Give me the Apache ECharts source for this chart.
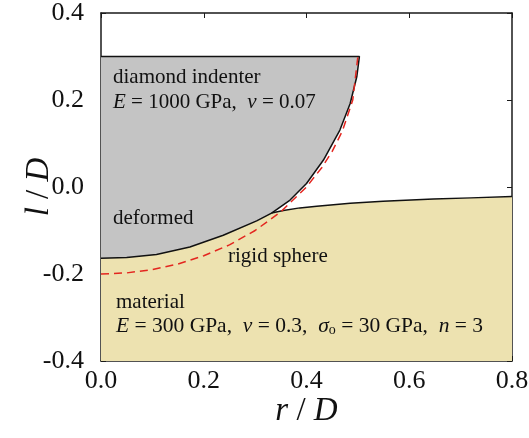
<!DOCTYPE html>
<html>
<head>
<meta charset="utf-8">
<script src="https://cdn.jsdelivr.net/npm/echarts@6/dist/echarts.min.js"></script>
<style>
  html, body { margin: 0; padding: 0; background: #fff; }
  #chart { width: 529px; height: 438px; }
</style>
</head>
<body>
<div id="chart"></div>
<script>
// tick labels
var xTicks = [0, 0.2, 0.4, 0.6, 0.8];
var yTicks = [-0.4, -0.2, 0.0, 0.2, 0.4];

// deformed indenter profile, from the axis up to its flat top (r, l)
var indenterProfile = [
  [0, -0.164], [0.05, -0.162], [0.108, -0.155], [0.173, -0.138], [0.238, -0.111],
  [0.303, -0.078], [0.332, -0.060], [0.368, -0.030], [0.400, 0.008], [0.433, 0.062],
  [0.465, 0.131], [0.485, 0.192], [0.498, 0.254], [0.503, 0.300]
];
var indenterTop = 0.3;
var contactIndex = 6; // profile point where the material leaves the indenter

// free material surface, from the contact edge outwards
var materialSurface = [
  [0.332, -0.060], [0.355, -0.054], [0.387, -0.048], [0.420, -0.044], [0.485, -0.0375],
  [0.549, -0.033], [0.647, -0.0276], [0.720, -0.025], [0.800, -0.022]
];

// rigid sphere outline (red dashed)
var rigidSphere = [
  [0, -0.200], [0.05, -0.1975], [0.10, -0.190], [0.15, -0.177], [0.20, -0.158],
  [0.25, -0.133], [0.30, -0.100], [0.35, -0.057], [0.40, 0.000], [0.43, 0.045],
  [0.45, 0.082], [0.47, 0.129], [0.49, 0.200], [0.50, 0.300]
];

var yMin = -0.4, xMax = 0.8;

var serif = 'Liberation Serif';

// outlines and fill polygons built from the arrays above
var indenterOutline = [[0, indenterTop], [indenterProfile[indenterProfile.length - 1][0], indenterTop]]
  .concat(indenterProfile.slice().reverse());
var materialPoly = [[0, yMin]]
  .concat(indenterProfile.slice(0, contactIndex + 1))
  .concat(materialSurface.slice(1))
  .concat([[xMax, yMin]]);

function polygonSeries(points, color, z) {
  return {
    type: 'custom',
    data: points,
    z: z,
    silent: true,
    renderItem: function (params, api) {
      if (params.dataIndex !== 0) return null;
      return {
        type: 'polygon',
        shape: { points: points.map(function (p) { return api.coord(p); }) },
        style: { fill: color }
      };
    }
  };
}

function lineSeries(points, style, z) {
  return {
    type: 'line',
    data: points,
    z: z,
    symbol: 'none',
    silent: true,
    lineStyle: style
  };
}

var axisLine = { show: true, onZero: false, lineStyle: { color: '#1a1a1a', width: 1.5 } };
var tickIn = { show: true, inside: true, length: 5, lineStyle: { color: '#1a1a1a', width: 1 } };
var fmt = function (v) { return v.toFixed(1); };
var nameStyle = {
  fontFamily: serif, fontSize: 33, color: '#111',
  rich: { i: { fontFamily: serif, fontSize: 33, fontStyle: 'italic', color: '#111' } }
};

var chart = echarts.init(document.getElementById('chart'));
chart.setOption({
  animation: false,
  backgroundColor: '#fff',
  grid: { left: 101, right: 17, top: 13, bottom: 77, outerBoundsMode: 'none', containLabel: false },
  xAxis: [{
    type: 'value', min: xTicks[0], max: xTicks[xTicks.length - 1], interval: 0.2,
    axisLine: axisLine, axisTick: tickIn, splitLine: { show: false },
    axisLabel: { margin: 7, formatter: fmt, fontFamily: serif, fontSize: 26, color: '#111' },
    name: '{i|r} / {i|D}', nameLocation: 'middle', nameGap: 34, nameMoveOverlap: false,
    nameTextStyle: nameStyle
  }, {
    type: 'value', position: 'top', min: xTicks[0], max: xTicks[xTicks.length - 1], interval: 0.2,
    axisLine: axisLine, axisTick: tickIn, axisLabel: { show: false }, splitLine: { show: false }
  }],
  yAxis: [{
    type: 'value', min: yTicks[0], max: yTicks[yTicks.length - 1], interval: 0.2,
    axisLine: axisLine, axisTick: tickIn, splitLine: { show: false },
    axisLabel: { margin: 17, formatter: fmt, fontFamily: serif, fontSize: 26, color: '#111' },
    name: '{i|l} / {i|D}', nameLocation: 'middle', nameGap: 45, nameRotate: 90, nameMoveOverlap: false,
    nameTextStyle: nameStyle
  }, {
    type: 'value', position: 'right', min: yTicks[0], max: yTicks[yTicks.length - 1], interval: 0.2,
    axisLine: axisLine, axisTick: tickIn, axisLabel: { show: false }, splitLine: { show: false }
  }],
  series: [
    polygonSeries(materialPoly, '#ede2b0', 1),
    polygonSeries(indenterOutline, '#c4c4c4', 1),
    lineSeries(indenterOutline, { color: '#111', width: 1.5 }, 3),
    lineSeries(materialSurface, { color: '#111', width: 1.5 }, 3),
    lineSeries(rigidSphere, { color: '#e3261f', width: 1.5, type: [8, 5] }, 4)
  ],
  graphic: [
    { type: 'text', left: 113, top: 67, z: 10,
      style: { text: 'diamond indenter', fontFamily: serif, fontSize: 21, fill: '#111' } },
    { type: 'text', left: 113, top: 92, z: 10,
      style: { text: '{i|E} = 1000 GPa,  {i|ν} = 0.07', fontFamily: serif, fontSize: 21, fill: '#111',
        rich: { i: { fontFamily: serif, fontSize: 21, fontStyle: 'italic' } } } },
    { type: 'text', left: 113, top: 208, z: 10,
      style: { text: 'deformed', fontFamily: serif, fontSize: 21, fill: '#111' } },
    { type: 'text', left: 228, top: 246, z: 10,
      style: { text: 'rigid sphere', fontFamily: serif, fontSize: 21, fill: '#111' } },
    { type: 'text', left: 116, top: 292, z: 10,
      style: { text: 'material', fontFamily: serif, fontSize: 21, fill: '#111' } },
    { type: 'text', left: 116, top: 315, z: 10,
      style: { text: '{i|E} = 300 GPa,  {i|ν} = 0.3,  {i|σ}{s|o} = 30 GPa,  {i|n} = 3',
        fontFamily: serif, fontSize: 21.5, fill: '#111',
        rich: {
          i: { fontFamily: serif, fontSize: 21.5, fontStyle: 'italic' },
          s: { fontFamily: serif, fontSize: 14, padding: [9, 0, 0, 0] }
        } } }
  ]
});
</script>
</body>
</html>
